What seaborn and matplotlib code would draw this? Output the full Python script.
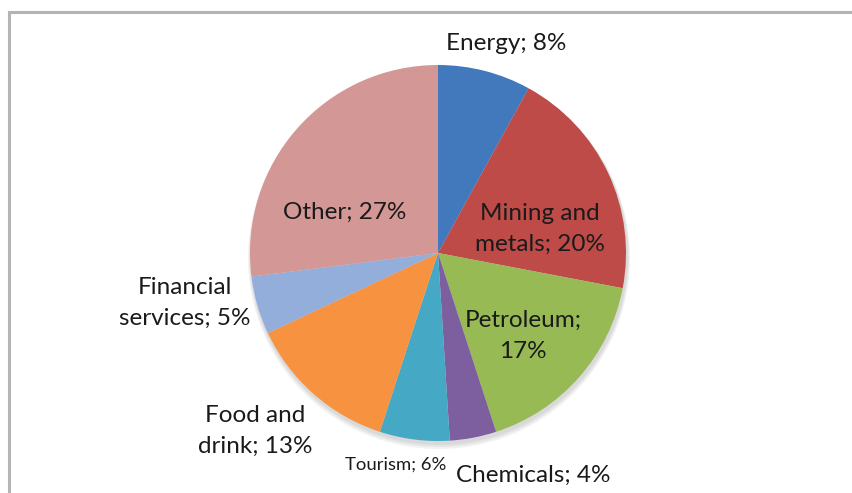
import matplotlib
matplotlib.use("Agg")
import matplotlib.pyplot as plt
import seaborn as sns
from matplotlib.patches import Rectangle

sns.set_theme(style="white")
plt.rcParams['font.family'] = ['Lato', 'DejaVu Sans']

categories = ["Energy", "Mining and metals", "Petroleum", "Chemicals", "Tourism",
              "Food and drink", "Financial services", "Other"]
values = [8, 20, 17, 4, 6, 13, 5, 27]
colors = ["#4279BD", "#BE4B48", "#98BA54", "#7D5FA0", "#45A8C4",
          "#F79340", "#93AEDA", "#D39795"]

W, H = 853, 493
fig = plt.figure(figsize=(W / 100, H / 100), dpi=100)
ax = fig.add_axes([0, 0, 1, 1])

cx, cy, r = 438, H - 253, 188

# soft shadow
for i in range(3):
    ax.pie([1], colors=["#000000"], radius=r + 1 + i, center=(cx + 1, cy - 3 - i),
           wedgeprops=dict(alpha=0.05, linewidth=0), frame=True)

ax.pie(values, colors=colors, startangle=90, counterclock=False,
       radius=r, center=(cx, cy), frame=True,
       wedgeprops=dict(linewidth=0))
ax.set_xlim(0, W)
ax.set_ylim(0, H)
ax.set_aspect("equal")
ax.axis("off")

labels = [
    ("Energy; 8%", 506, 43, 17.5),
    ("Mining and\nmetals; 20%", 540, 229, 17.5),
    ("Petroleum;\n17%", 523, 336, 17.5),
    ("Chemicals; 4%", 533, 475, 17.5),
    ("Tourism; 6%", 396, 465, 13.3),
    ("Food and\ndrink; 13%", 255, 431, 17.5),
    ("Financial\nservices; 5%", 185, 303, 17.5),
    ("Other; 27%", 345, 212, 17.5),
]
for txt, x, y, fs in labels:
    ax.text(x, H - y, txt, ha="center", va="center", fontsize=fs,
            color="#1a1a1a", linespacing=1.6)

fig.patches.append(Rectangle((8.5 / W, -0.1), 2, (H - 12) / H + 0.1,
                             transform=fig.transFigure, fill=False,
                             edgecolor="#B4B4B4", linewidth=2.2))

fig.savefig("out.png", dpi=100, facecolor="white")
